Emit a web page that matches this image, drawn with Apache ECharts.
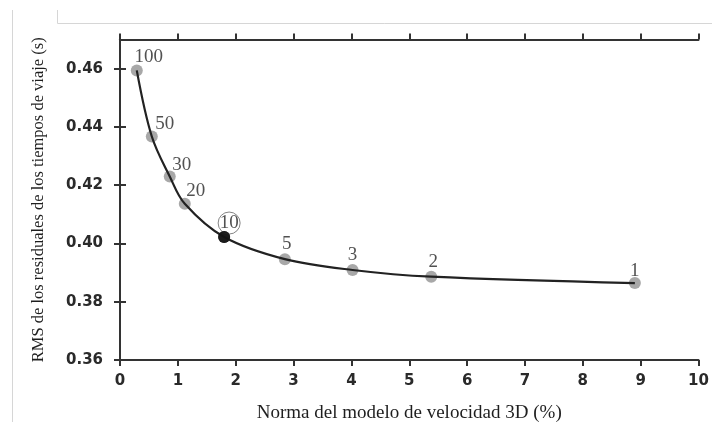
<!DOCTYPE html>
<html>
<head>
<meta charset="utf-8">
<script src="https://cdn.jsdelivr.net/npm/echarts@6/dist/echarts.min.js"></script>
<style>
  html, body { margin: 0; padding: 0; background: #fff; }
  #chart { width: 712px; height: 429px; }
</style>
</head>
<body>
<div id="chart"></div>
<script>
// L-curve: model norm vs RMS travel-time residual for each damping value
const dampingLabels = ['100', '50', '30', '20', '10', '5', '3', '2', '1'];
const normValues = [0.29, 0.55, 0.86, 1.12, 1.80, 2.85, 4.02, 5.38, 8.90];
const rmsValues = [0.4594, 0.4367, 0.4230, 0.4136, 0.4022, 0.3946, 0.3909, 0.3886, 0.3864];
const chosenLabel = '10';

const xTicks = { min: 0, max: 10, interval: 1 };
const yTicks = { min: 0.36, max: 0.47, interval: 0.02 };

// label placement (pixels, relative to each marker's centre)
const labelShift = [[12, -13], [13, -13], [12, -11], [11, -13], [5, -14], [2, -15], [0, -15], [2, -15], [0, -12]];

const points = normValues.map((x, i) => [x, rmsValues[i]]);

const axisColor = '#333';
const serif = '"Liberation Serif", "DejaVu Serif", serif';
const sans = '"DejaVu Sans", "Liberation Sans", Arial, sans-serif';

const pointData = points.map((p, i) => {
  const isChosen = dampingLabels[i] === chosenLabel;
  const item = {
    value: p,
    name: dampingLabels[i],
    itemStyle: { color: isChosen ? '#111' : 'rgba(128,128,128,0.85)' },
    label: { offset: labelShift[i] }
  };
  if (isChosen) {
    Object.assign(item.label, {
      borderColor: '#666',
      borderWidth: 1,
      borderRadius: 13,
      width: 20,
      height: 20,
      lineHeight: 20,
      align: 'center',
      verticalAlign: 'middle',
      padding: [1, 1, 1, 1]
    });
  }
  return item;
});

const chart = echarts.init(document.getElementById('chart'), null, { renderer: 'canvas' });

chart.setOption({
  backgroundColor: '#fff',
  animation: false,
  grid: { left: 120, right: 13.5, top: 39.5, bottom: 69, containLabel: false },
  xAxis: [
    {
      type: 'value', position: 'bottom',
      min: xTicks.min, max: xTicks.max, interval: xTicks.interval,
      name: 'Norma del modelo de velocidad 3D (%)',
      nameLocation: 'middle', nameGap: 44,
      nameTextStyle: { fontFamily: serif, fontSize: 19, color: '#1e1e1e' },
      axisLine: { lineStyle: { color: axisColor, width: 2 } },
      axisTick: { show: true, length: 6, lineStyle: { color: axisColor, width: 2 } },
      axisLabel: { fontFamily: sans, fontWeight: 'bold', fontSize: 15, color: '#2a2a2a', margin: 14 },
      splitLine: { show: false }
    },
    {
      type: 'value', position: 'top',
      min: xTicks.min, max: xTicks.max, interval: xTicks.interval,
      axisLine: { lineStyle: { color: axisColor, width: 2 } },
      axisTick: { show: true, length: 6, lineStyle: { color: axisColor, width: 2 } },
      axisLabel: { show: false },
      splitLine: { show: false }
    }
  ],
  yAxis: [
    {
      type: 'value', position: 'left',
      min: yTicks.min, max: yTicks.max, interval: yTicks.interval,
      name: 'RMS de los residuales de los tiempos de viaje (s)',
      nameLocation: 'middle', nameGap: 73, nameRotate: 90,
      nameTextStyle: { fontFamily: serif, fontSize: 16.5, color: '#1e1e1e' },
      axisLine: { lineStyle: { color: axisColor, width: 2 } },
      axisTick: { show: true, length: 6, lineStyle: { color: axisColor, width: 2 } },
      axisLabel: {
        fontFamily: sans, fontWeight: 'bold', fontSize: 15, color: '#2a2a2a', margin: 17,
        showMaxLabel: false,
        formatter: v => v.toFixed(2)
      },
      splitLine: { show: false }
    },
    {
      type: 'value', position: 'right',
      min: yTicks.min, max: yTicks.max, interval: yTicks.interval,
      axisLine: { lineStyle: { color: axisColor, width: 2 } },
      axisTick: { show: true, length: 6, lineStyle: { color: axisColor, width: 2 } },
      axisLabel: { show: false },
      splitLine: { show: false }
    }
  ],
  series: [
    {
      type: 'scatter',
      xAxisIndex: 0, yAxisIndex: 0,
      z: 2,
      symbol: 'circle',
      symbolSize: 12,
      data: pointData,
      label: {
        show: true,
        formatter: p => p.name,
        position: 'inside',
        fontFamily: serif,
        fontSize: 19,
        color: '#262626'
      }
    },
    {
      type: 'line',
      xAxisIndex: 0, yAxisIndex: 0,
      z: 3,
      smooth: 0.35,
      showSymbol: false,
      silent: true,
      data: points,
      lineStyle: { color: '#222', width: 2.2 }
    },
    {
      type: 'scatter',
      xAxisIndex: 0, yAxisIndex: 0,
      z: 4,
      symbol: 'circle',
      symbolSize: 12,
      silent: true,
      data: points.filter((p, i) => dampingLabels[i] === chosenLabel),
      itemStyle: { color: '#111' }
    }
  ],
  graphic: [
    // faint page frame around the figure
    { type: 'polyline', silent: true, shape: { points: [[12.5, 10], [12.5, 422]] }, style: { stroke: '#d6d6d6', lineWidth: 1, fill: null } },
    { type: 'polyline', silent: true, shape: { points: [[57.5, 10], [57.5, 23.5], [712, 23.5]] }, style: { stroke: '#d6d6d6', lineWidth: 1, fill: null } }
  ]
});
</script>
</body>
</html>
